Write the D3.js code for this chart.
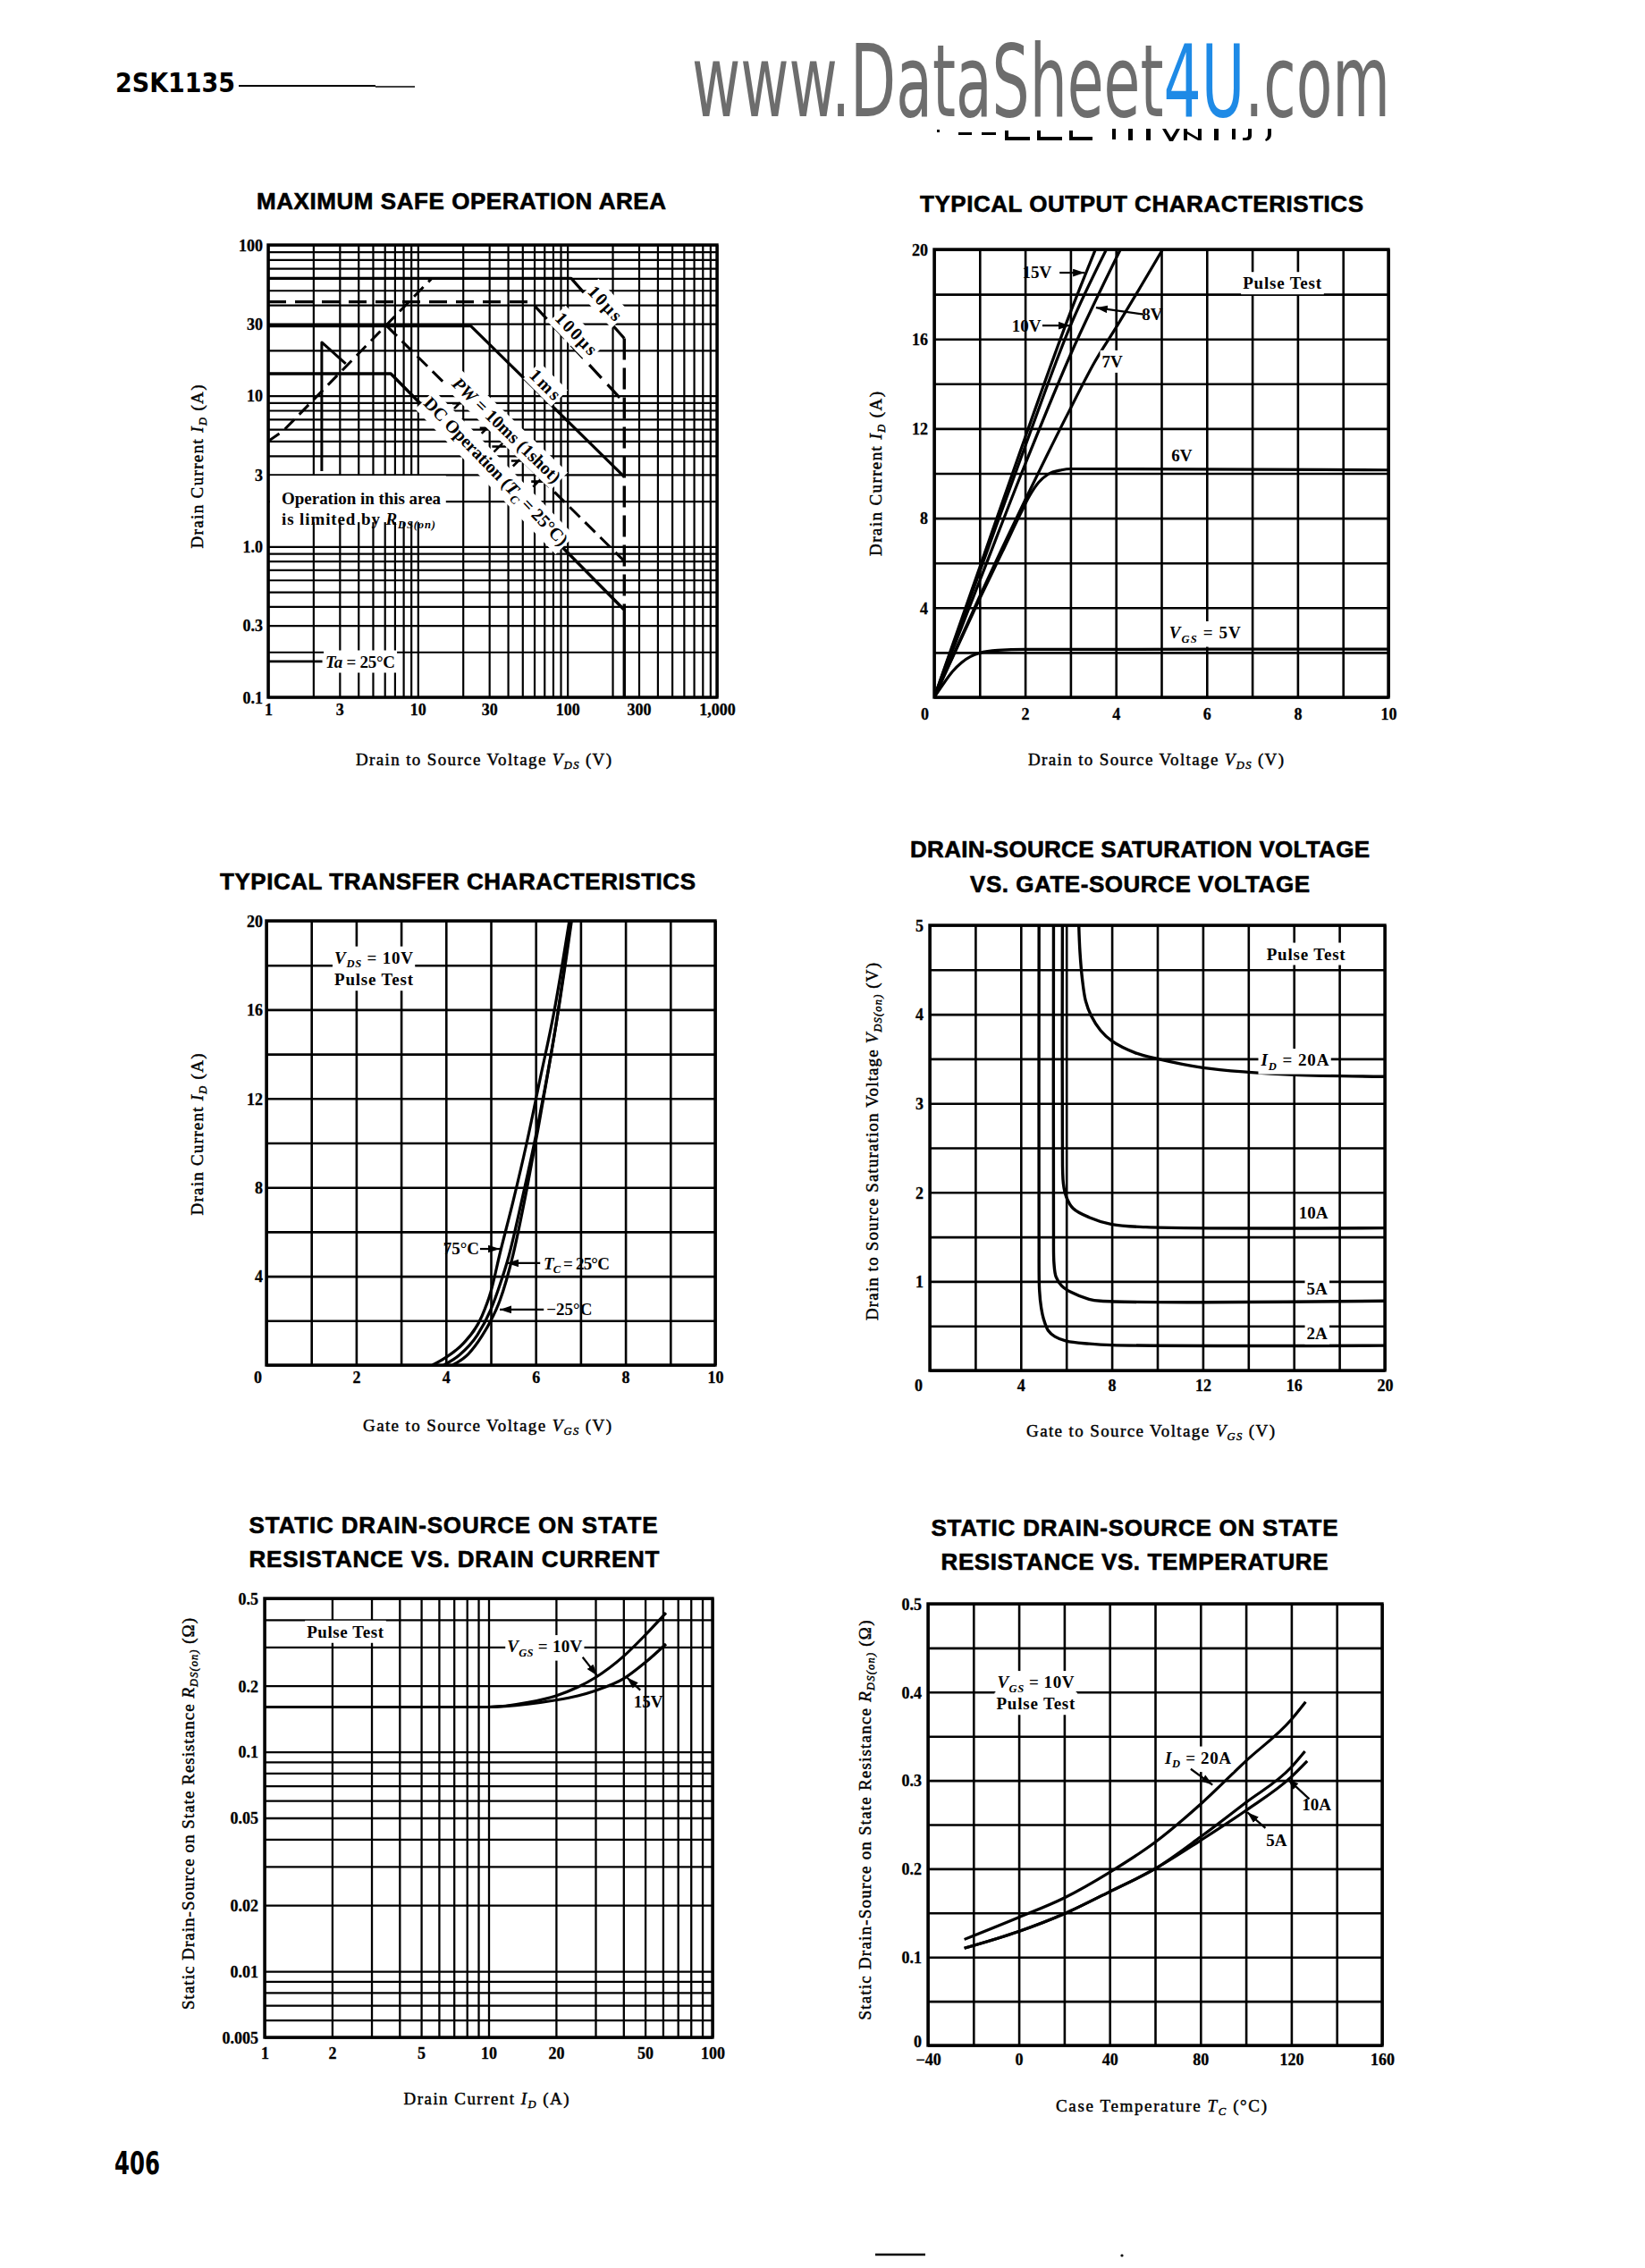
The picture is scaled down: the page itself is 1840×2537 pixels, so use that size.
<!DOCTYPE html>
<html>
<head>
<meta charset="utf-8">
<title>2SK1135</title>
<script src="https://cdn.jsdelivr.net/npm/d3@7"></script>
<style>
html,body{margin:0;padding:0;background:#fff;}
svg{display:block;}
</style>
</head>
<body>
<svg id="page" width="1840" height="2537" xmlns="http://www.w3.org/2000/svg"></svg>
<script>
// ======================= DATA =======================
// 1. Maximum safe operation area (VDS [V], ID [A])
const soaXTicks = [1, 3, 10, 30, 100, 300, 1000];
const soaXTickLabels = ["1", "3", "10", "30", "100", "300", "1,000"];
const soaYTicks = [0.1, 0.3, 1, 3, 10, 30, 100];
const soaYTickLabels = ["0.1", "0.3", "1.0", "3", "10", "30", "100"];
const soaRdsLimit = [[1, 5.0], [1.25, 5.8], [12.4, 60]];
const soa10us = [[1, 60], [106, 60], [240, 24]];
const soa100us = [[1, 42], [57, 42], [240, 9.0]];
const soa1ms = [[1, 29], [22.6, 29], [240, 2.9]];
const soa10ms = [[6.2, 29], [240, 0.8]];
const soa10msMarks = [[19, 8.9], [29, 6.1], [35, 4.6], [47, 3.7], [64, 2.7]];
const soaDC = [[1, 14], [6.6, 14], [240, 0.38], [240, 0.1]];
const soaVdss = [[240, 24], [240, 0.38]];
const soaTaLimit = [[2.28, 3.16], [2.28, 22.6], [3.3, 16.3]];
const soaTaLevel = [[1, 0.173], [2.3, 0.173]];

// 2. Typical output characteristics (VDS [V], ID [A])
const outXTicks = [0, 2, 4, 6, 8, 10];
const outYTicks = [4, 8, 12, 16, 20];
const out15V = [[0, 0], [1, 5.8], [2, 11.6], [3, 17.2], [3.55, 20]];
const out10V = [[0, 0], [1, 5.6], [2, 11.2], [3, 16.6], [3.79, 20]];
const out8V = [[0, 0], [1, 5.2], [2, 10.4], [3, 15.3], [4.1, 20]];
const out7V = [[0, 0], [1, 4.5], [2, 8.8], [3, 12.9], [3.54, 15], [4, 16.5], [5.03, 20]];
const out6V = [[0, 0], [0.5, 2.2], [1, 4.4], [1.5, 6.5], [1.9, 8.2], [2.1, 9.0], [2.3, 9.6], [2.5, 9.95], [2.8, 10.15], [3, 10.2], [10, 10.15]];
const out5V = [[0, 0], [0.2, 0.6], [0.4, 1.15], [0.6, 1.55], [0.8, 1.82], [1.0, 1.98], [1.4, 2.1], [2, 2.14], [10, 2.15]];

// 3. Typical transfer characteristics (VGS [V], ID [A])
const trXTicks = [0, 2, 4, 6, 8, 10];
const trYTicks = [4, 8, 12, 16, 20];
const tr75C = [[3.7, 0], [4.0, 0.35], [4.4, 1.0], [4.8, 2.2], [5.0, 3.3], [5.2, 5.0], [5.5, 7.4], [5.8, 10.0], [6.1, 12.9], [6.4, 15.8], [6.75, 20]];
const tr25C = [[3.95, 0], [4.3, 0.45], [4.7, 1.35], [5.0, 2.5], [5.2, 3.6], [5.4, 4.9], [5.7, 7.5], [6.0, 10.3], [6.2, 12.4], [6.45, 15.3], [6.78, 20]];
const trM25C = [[4.15, 0], [4.5, 0.5], [4.8, 1.3], [5.0, 2.0], [5.2, 2.9], [5.5, 5.0], [5.8, 7.9], [6.05, 10.6], [6.25, 12.9], [6.5, 15.9], [6.8, 20]];

// 4. Drain-source saturation voltage vs gate-source voltage (VGS [V], VDS(on) [V])
const satXTicks = [0, 4, 8, 12, 16, 20];
const satYTicks = [1, 2, 3, 4, 5];
const sat20A = [[6.55, 5], [6.6, 4.7], [6.7, 4.4], [6.85, 4.15], [7.1, 3.98], [7.5, 3.82], [8, 3.7], [9, 3.57], [10, 3.5], [12, 3.4], [14, 3.35], [16, 3.32], [20, 3.3]];
const sat10A = [[5.83, 5], [5.83, 2.6], [5.87, 2.1], [6.0, 1.95], [6.3, 1.82], [7, 1.72], [8, 1.64], [9.5, 1.61], [20, 1.6]];
const sat5A = [[5.44, 5], [5.44, 1.6], [5.46, 1.2], [5.55, 1.05], [5.8, 0.95], [6.2, 0.88], [7, 0.8], [7.5, 0.78], [20, 0.78]];
const sat2A = [[4.8, 5], [4.8, 1.5], [4.82, 0.9], [4.9, 0.7], [5.0, 0.58], [5.2, 0.45], [5.5, 0.38], [6, 0.33], [7, 0.3], [8, 0.285], [20, 0.28]];

// 5. Static drain-source on-state resistance vs drain current (ID [A], RDS(on) [ohm])
const rdsIXTicks = [1, 2, 5, 10, 20, 50, 100];
const rdsIYTicks = [0.005, 0.01, 0.02, 0.05, 0.1, 0.2, 0.5];
const rdsI10V = [[1, 0.16], [10, 0.16], [15, 0.168], [20, 0.18], [25, 0.197], [30, 0.218], [40, 0.272], [50, 0.34], [62, 0.43]];
const rdsI15V = [[1, 0.16], [10, 0.16], [15, 0.165], [20, 0.172], [25, 0.18], [30, 0.19], [40, 0.215], [50, 0.255], [62, 0.31]];

// 6. Static drain-source on-state resistance vs temperature (Tc [degC], RDS(on) [ohm])
const rdsTXTicks = [-40, 0, 40, 80, 120, 160];
const rdsTXTickLabels = ["\u221240", "0", "40", "80", "120", "160"];
const rdsTYTicks = [0, 0.1, 0.2, 0.3, 0.4, 0.5];
const rdsTYTickLabels = ["0", "0.1", "0.2", "0.3", "0.4", "0.5"];
const rdsT20A = [[-24, 0.12], [0, 0.145], [20, 0.167], [40, 0.196], [60, 0.23], [80, 0.273], [100, 0.322], [120, 0.369], [126.3, 0.389]];
const rdsT10A = [[-24, 0.11], [0, 0.129], [20, 0.149], [40, 0.174], [60, 0.2], [80, 0.236], [100, 0.275], [120, 0.315], [126, 0.333]];
const rdsT5A = [[-24, 0.11], [0, 0.129], [20, 0.149], [40, 0.174], [60, 0.2], [80, 0.232], [100, 0.266], [120, 0.304], [127, 0.322]];

// ======================= DRAWING =======================
const SERIF = "'Liberation Serif','Times New Roman',Times,serif";
const SANS = "'Liberation Sans',Arial,Helvetica,sans-serif";
const NARROW = "'Liberation Sans Narrow','Arial Narrow','DejaVu Sans Condensed','Liberation Sans',sans-serif";

const svg = d3.select("#page");
svg.append("rect").attr("width", 1840).attr("height", 2537).attr("fill", "#fff");
const defs = svg.append("defs");
defs.append("marker").attr("id", "arrow").attr("viewBox", "0 0 12 8").attr("refX", 12).attr("refY", 4)
  .attr("markerWidth", 13).attr("markerHeight", 9).attr("markerUnits", "userSpaceOnUse").attr("orient", "auto")
  .append("path").attr("d", "M0,0L12,4L0,8Z").attr("fill", "#000");

function rich(parent, x, y, parts, o = {}) {
  const g = parent.append("g").attr("transform", `translate(${x},${y})` + (o.rot ? ` rotate(${o.rot})` : "") + (o.sy ? ` scale(1,${o.sy})` : ""));
  const bg = o.bg ? g.append("rect").attr("fill", "#fff") : null;
  const size = o.size || 19;
  const t = g.append("text")
    .attr("x", 0).attr("y", 0)
    .attr("text-anchor", o.anchor || "middle")
    .attr("font-family", o.family || SERIF)
    .attr("font-size", size)
    .attr("font-weight", o.weight || "bold")
    .attr("fill", o.fill || "#000")
    .attr("dy", o.dy == null ? "0.35em" : o.dy);
  if (o.stroke) t.attr("stroke", o.fill || "#000").attr("stroke-width", o.stroke);
  let shifted = 0;
  const sh = size * 0.24;
  (Array.isArray(parts) ? parts : [parts]).forEach(p => {
    if (typeof p === "string") p = { t: p };
    const ts = t.append("tspan").text(p.t);
    if (p.i) ts.attr("font-style", "italic");
    if (p.s) {
      ts.attr("font-size", size * 0.66);
      if (!shifted) { ts.attr("dy", sh); shifted = 1; }
    } else if (shifted) { ts.attr("dy", -sh); shifted = 0; }
  });
  if (o.len) t.attr("textLength", o.len).attr("lengthAdjust", o.adjust || "spacing");
  if (bg) {
    const b = t.node().getBBox();
    const p = o.pad == null ? 2 : o.pad;
    bg.attr("x", b.x - p).attr("y", b.y - p).attr("width", b.width + 2 * p).attr("height", b.height + 2 * p);
  }
  return g;
}

function logGrid(lo, hi) {
  const out = [];
  for (let e = Math.floor(Math.log10(lo) + 1e-9); Math.pow(10, e) < hi * 0.999; e++) {
    for (let m = 1; m < 10; m++) {
      const v = +(m * Math.pow(10, e)).toPrecision(3);
      if (v >= lo * 0.999 && v <= hi * 1.001) out.push(v);
    }
  }
  if (out[out.length - 1] !== hi) out.push(hi);
  return out;
}
function linGrid(a, b, s) { return d3.range(a, b + s / 2, s); }

let clipN = 0;
function chart(cfg) {
  const g = svg.append("g");
  const { x, y } = cfg;
  const [xl, xr] = x.range();
  const [yb, yt] = y.range();
  const id = "clip" + (clipN++);
  defs.append("clipPath").attr("id", id).append("rect")
    .attr("x", xl).attr("y", yt).attr("width", xr - xl).attr("height", yb - yt);
  const grid = g.append("g");
  const gx = grid.append("g").attr("transform", `translate(0,${yb})`)
    .call(d3.axisBottom(x).tickValues(cfg.xGrid).tickSize(-(yb - yt)).tickFormat(""));
  const gy = grid.append("g").attr("transform", `translate(${xl},0)`)
    .call(d3.axisLeft(y).tickValues(cfg.yGrid).tickSize(-(xr - xl)).tickFormat(""));
  [gx, gy].forEach(s => {
    s.select(".domain").remove();
    s.selectAll("line").attr("stroke", "#000").attr("stroke-width", cfg.gridW);
  });
  const plot = g.append("g").attr("clip-path", `url(#${id})`);
  const ann = g.append("g");
  // tick labels via axes
  const ax = g.append("g").attr("transform", `translate(0,${cfg.xLabY})`)
    .call(d3.axisBottom(x).tickValues(cfg.xTicks).tickFormat((d, i) => cfg.xLabels[i]).tickSize(0).tickPadding(0));
  ax.select(".domain").remove();
  ax.attr("font-family", SERIF).attr("font-size", 18).attr("font-weight", "bold");
  ax.selectAll("text").attr("y", 0).attr("dy", "0.35em").attr("fill", "#000")
    .attr("stroke", "#000").attr("stroke-width", 0.3)
    .attr("dx", (d, i) => (cfg.xShift && cfg.xShift[i]) || 0);
  const ay = g.append("g").attr("transform", `translate(${cfg.yLabX},0)`)
    .call(d3.axisLeft(y).tickValues(cfg.yTicks).tickFormat((d, i) => cfg.yLabels[i]).tickSize(0).tickPadding(0));
  ay.select(".domain").remove();
  ay.attr("font-family", SERIF).attr("font-size", 18).attr("font-weight", "bold");
  ay.selectAll("text").attr("x", 0).attr("dy", "0.35em").attr("fill", "#000")
    .attr("stroke", "#000").attr("stroke-width", 0.3)
    .attr("y", (d, i) => (cfg.yShift && cfg.yShift[i]) || 0);
  // titles
  cfg.title.forEach(tl => rich(svg, tl.x, tl.y, tl.t, { family: SANS, size: 26, weight: "bold", len: tl.len, stroke: 0.6 }));
  rich(svg, cfg.xTitle.x, cfg.xTitle.y, cfg.xTitle.t, { size: 19, weight: "normal", stroke: 0.45, len: cfg.xTitle.len });
  rich(svg, cfg.yTitle.x, cfg.yTitle.y, cfg.yTitle.t, { size: 19, weight: "normal", stroke: 0.45, len: cfg.yTitle.len, rot: -90 });
  return {
    g, plot, ann, x, y,
    line(data, o = {}) {
      return plot.append("path").datum(data)
        .attr("d", d3.line().x(d => x(d[0])).y(d => y(d[1])).curve(o.curve || d3.curveLinear))
        .attr("fill", "none").attr("stroke", "#000").attr("stroke-width", o.w || 3.2)
        .attr("stroke-dasharray", o.dash || null).attr("stroke-linejoin", "round").attr("stroke-linecap", "butt");
    },
    label(pos, parts, o = {}) {
      return rich(ann, x(pos[0]), y(pos[1]), parts, Object.assign({ size: 19, weight: "bold", bg: true }, o));
    },
    arrow(from, to) {
      ann.append("line").attr("x1", x(from[0])).attr("y1", y(from[1])).attr("x2", x(to[0])).attr("y2", y(to[1]))
        .attr("stroke", "#000").attr("stroke-width", 2.2).attr("marker-end", "url(#arrow)");
    },
    finish() {
      g.append("rect").attr("x", xl).attr("y", yt).attr("width", xr - xl).attr("height", yb - yt)
        .attr("fill", "none").attr("stroke", "#000").attr("stroke-width", 3.4);
    }
  };
}

// ---------- page header / footer ----------
rich(svg, 129, 103, "2SK1135", { family: NARROW, size: 31, weight: "bold", anchor: "start", dy: 0, len: 134, adjust: "spacingAndGlyphs" });
svg.append("line").attr("x1", 267).attr("x2", 420).attr("y1", 96).attr("y2", 96).attr("stroke", "#000").attr("stroke-width", 2.2);
svg.append("line").attr("x1", 420).attr("x2", 464).attr("y1", 97).attr("y2", 97).attr("stroke", "#000").attr("stroke-width", 1.4);
// watermark: one text, "4U" coloured blue through a hard-stop gradient
const WM_W = 781;
const wmGrad = defs.append("linearGradient").attr("id", "wmGrad").attr("gradientUnits", "userSpaceOnUse")
  .attr("x1", 0).attr("x2", WM_W).attr("y1", 0).attr("y2", 0);
const wmG = rich(svg, 774, 130, "www.DataSheet4U.com", { family: NARROW, size: 82, weight: "normal", anchor: "start", dy: 0,
  len: WM_W, adjust: "spacingAndGlyphs", sy: 1.37, fill: "url(#wmGrad)" });
let cutA = 0.69 * WM_W, cutB = 0.813 * WM_W;
try {
  const tn = wmG.select("text").node();
  cutA = (tn.getEndPositionOfChar(12).x + tn.getStartPositionOfChar(13).x) / 2;
  cutB = (tn.getEndPositionOfChar(14).x + tn.getStartPositionOfChar(15).x) / 2;
} catch (e) {}
[[0, "#6d6d6d"], [cutA / WM_W, "#6d6d6d"], [cutA / WM_W, "#1e8ae6"], [cutB / WM_W, "#1e8ae6"], [cutB / WM_W, "#6d6d6d"], [1, "#6d6d6d"]]
  .forEach(([off, col]) => wmGrad.append("stop").attr("offset", off).attr("stop-color", col));
// cut-off print fragments under the watermark (bottoms of a clipped line of letters)
svg.append("path").attr("fill", "#000").attr("d",
  "M1048,145h3v3h-3z M1072,148h15v3h-15z M1098,148h16v3h-16z" +
  " M1124,146h4v10h-4z M1124,153h28v4h-28z M1160,146h4v10h-4z M1160,153h28v4h-28z" +
  " M1196,146h4v10h-4z M1196,153h26v4h-26z" +
  " M1244,144h4v12h-4z M1262,144h5v13h-5z M1282,144h5v13h-5z" +
  " M1300,144h4l6,10l6,-10h4l-8,14h-4z M1324,144h4v13h-4z M1340,144h4v13h-4z M1328,150l12,7v-3l-12,-7z" +
  " M1358,144h5v13h-5z M1378,144h4v12h-4z M1396,144h4v8q0,5 -6,5h-4v-3h3q3,0 3,-3z M1418,144h4v6q0,6 -6,8l-1,-2q3,-2 3,-6z");
rich(svg, 128, 2432, "406", { family: NARROW, size: 36, weight: "bold", anchor: "start", dy: 0, len: 51, adjust: "spacingAndGlyphs" });
svg.append("line").attr("x1", 979).attr("x2", 1035).attr("y1", 2522).attr("y2", 2522).attr("stroke", "#000").attr("stroke-width", 2.4);
svg.append("circle").attr("cx", 1255).attr("cy", 2523).attr("r", 1.6).attr("fill", "#000");

const VDS = [{ t: "V", i: 1 }, { t: "DS", i: 1, s: 1 }];
const VGS = [{ t: "V", i: 1 }, { t: "GS", i: 1, s: 1 }];
const ID = [{ t: "I", i: 1 }, { t: "D", i: 1, s: 1 }];

// ---------- Chart 1: SOA ----------
const c1 = chart({
  x: d3.scaleLog().domain([1, 1000]).range([300, 802]),
  y: d3.scaleLog().domain([0.1, 100]).range([780, 274]),
  xGrid: logGrid(1, 1000), yGrid: logGrid(0.1, 100), gridW: 2.2,
  xTicks: soaXTicks, xLabels: soaXTickLabels, yTicks: soaYTicks, yLabels: soaYTickLabels,
  xLabY: 794, yLabX: 294,
  title: [{ x: 516, y: 225, t: "MAXIMUM  SAFE  OPERATION  AREA", len: 458 }],
  xTitle: { x: 541, y: 849, t: ["Drain to Source Voltage  ", ...VDS, "   (V)"], len: 286 },
  yTitle: { x: 220, y: 522, t: ["Drain Current  ", ...ID, "  (A)"], len: 183 }
});
// white box behind the R_DS(on) note
c1.ann.append("rect").attr("x", c1.x(1) + 2).attr("y", c1.y(2.95))
  .attr("width", c1.x(15) - c1.x(1)).attr("height", c1.y(1.45) - c1.y(2.95)).attr("fill", "#fff");
c1.line(soaTaLimit, { w: 3 });
c1.line(soaRdsLimit, { dash: "15,8", w: 3 });
c1.line(soa10us, { w: 3.2 });
c1.line(soa100us, { dash: "20,10", w: 3.2 });
c1.line(soa1ms, { w: 3.2 });
c1.line(soa10ms, { dash: "16,8", w: 3 });
c1.line(soaDC, { w: 3.4 });
c1.line(soaVdss, { dash: "24,9", w: 3.4 });
c1.line(soaTaLevel, { w: 2.6 });
soa10msMarks.forEach(([vx, vy]) => {
  const px = c1.x(vx), py = c1.y(vy);
  c1.plot.append("path").attr("d", `M${px - 8},${py}L${px + 8},${py}M${px - 6},${py + 6}L${px + 6},${py - 6}`)
    .attr("stroke", "#000").attr("stroke-width", 2.6);
});
c1.label([179, 41.2], "10\u00B5s", { rot: 47, len: 46, size: 20 });
c1.label([115, 25.9], "100\u00B5s", { rot: 46, len: 58, size: 20 });
c1.label([71.3, 11.9], "1ms", { rot: 45, len: 40, size: 20 });
c1.label([39.4, 5.93], [{ t: "PW", i: 1 }, " = 10ms (1shot)"], { rot: 44, len: 160, size: 20 });
c1.label([33.4, 3.16], ["DC  Operation (", { t: "T", i: 1 }, { t: "C", i: 1, s: 1 }, " = 25\u00B0C)"], { rot: 46, len: 222, size: 20 });
rich(c1.ann, c1.x(1.23), c1.y(2.1), "Operation  in  this  area", { anchor: "start", size: 19, len: 178 });
rich(c1.ann, c1.x(1.23), c1.y(1.53), ["is  limited  by  ", { t: "R", i: 1 }, { t: "DS(on)", i: 1, s: 1 }], { anchor: "start", size: 19, len: 172 });
c1.label([4.13, 0.173], [{ t: "Ta", i: 1 }, " = 25\u00B0C"], { len: 78 });
c1.finish();

// ---------- Chart 2: output characteristics ----------
const c2 = chart({
  x: d3.scaleLinear().domain([0, 10]).range([1045, 1553]),
  y: d3.scaleLinear().domain([0, 20]).range([780, 279]),
  xGrid: linGrid(0, 10, 1), yGrid: linGrid(0, 20, 2), gridW: 2.6,
  xTicks: outXTicks, xLabels: outXTicks.map(String), xShift: [-11],
  yTicks: outYTicks, yLabels: outYTicks.map(String),
  xLabY: 799, yLabX: 1038,
  title: [{ x: 1277, y: 228, t: "TYPICAL  OUTPUT  CHARACTERISTICS", len: 496 }],
  xTitle: { x: 1293, y: 849, t: ["Drain to Source Voltage  ", ...VDS, "   (V)"], len: 286 },
  yTitle: { x: 979, y: 530, t: ["Drain Current  ", ...ID, "  (A)"], len: 184 }
});
[out15V, out10V, out8V, out7V, out6V, out5V].forEach(d => c2.line(d, { curve: d3.curveMonotoneX }));
c2.label([7.66, 18.5], "Pulse Test", { len: 88 });
c2.label([2.26, 19.0], "15V", { bg: false });
c2.arrow([2.76, 18.96], [3.31, 18.96]);
c2.label([2.03, 16.6], "10V", { bg: false });
c2.arrow([2.38, 16.6], [2.99, 16.6]);
c2.label([4.8, 17.1], "8V", { bg: false });
c2.arrow([4.61, 17.1], [3.56, 17.4]);
c2.label([3.92, 15.0], "7V");
c2.label([5.45, 10.8], "6V");
c2.label([5.96, 2.9], [{ t: "V", i: 1 }, { t: "GS", i: 1, s: 1 }, " = 5V"], { len: 80 });
c2.finish();

// ---------- Chart 3: transfer characteristics ----------
const c3 = chart({
  x: d3.scaleLinear().domain([0, 10]).range([298, 800]),
  y: d3.scaleLinear().domain([0, 20]).range([1527, 1030]),
  xGrid: linGrid(0, 10, 1), yGrid: linGrid(0, 20, 2), gridW: 2.6,
  xTicks: trXTicks, xLabels: trXTicks.map(String), xShift: [-10],
  yTicks: trYTicks, yLabels: trYTicks.map(String),
  xLabY: 1541, yLabX: 294,
  title: [{ x: 512, y: 986, t: "TYPICAL  TRANSFER  CHARACTERISTICS", len: 532 }],
  xTitle: { x: 545, y: 1594, t: ["Gate to Source Voltage  ", ...VGS, "   (V)"], len: 278 },
  yTitle: { x: 220, y: 1269, t: ["Drain Current  ", ...ID, "  (A)"], len: 181 }
});
[tr75C, tr25C, trM25C].forEach(d => c3.line(d, { curve: d3.curveMonotoneX }));
c3.label([2.39, 18.35], [{ t: "V", i: 1 }, { t: "DS", i: 1, s: 1 }, " = 10V"], { len: 88 });
c3.label([2.39, 17.36], "Pulse Test", { len: 88 });
c3.label([4.34, 5.25], "75\u00B0C", { bg: false });
c3.arrow([4.76, 5.23], [5.2, 5.23]);
c3.label([6.91, 4.59], [{ t: "T", i: 1 }, { t: "C", i: 1, s: 1 }, " = 25\u00B0C"], { bg: false, len: 74 });
c3.arrow([6.1, 4.59], [5.36, 4.59]);
c3.label([6.75, 2.54], "\u221225\u00B0C", { bg: false });
c3.arrow([6.18, 2.5], [5.2, 2.5]);
c3.finish();

// ---------- Chart 4: saturation voltage ----------
const c4 = chart({
  x: d3.scaleLinear().domain([0, 20]).range([1040, 1549]),
  y: d3.scaleLinear().domain([0, 5]).range([1533, 1035]),
  xGrid: linGrid(0, 20, 2), yGrid: linGrid(0, 5, 0.5), gridW: 2.6,
  xTicks: satXTicks, xLabels: satXTicks.map(String), xShift: [-13],
  yTicks: satYTicks, yLabels: satYTicks.map(String),
  xLabY: 1550, yLabX: 1033,
  title: [{ x: 1275, y: 950, t: "DRAIN-SOURCE  SATURATION  VOLTAGE", len: 514 },
          { x: 1275, y: 989, t: "VS.  GATE-SOURCE  VOLTAGE", len: 380 }],
  xTitle: { x: 1287, y: 1600, t: ["Gate to Source Voltage  ", ...VGS, "   (V)"], len: 278 },
  yTitle: { x: 975, y: 1277, t: ["Drain to Source Saturation Voltage  ", { t: "V", i: 1 }, { t: "DS(on)", i: 1, s: 1 }, "  (V)"], len: 400 }
});
[sat20A, sat10A, sat5A, sat2A].forEach(d => c4.line(d, { curve: d3.curveCatmullRom.alpha(0.5), w: 3.4 }));
c4.label([16.53, 4.68], "Pulse Test", { len: 88 });
c4.label([16.05, 3.49], [{ t: "I", i: 1 }, { t: "D", i: 1, s: 1 }, " = 20A"], { len: 76 });
c4.label([16.86, 1.77], "10A");
c4.label([17.02, 0.92], "5A");
c4.label([17.02, 0.42], "2A");
c4.finish();

// ---------- Chart 5: RDS(on) vs ID ----------
const c5 = chart({
  x: d3.scaleLog().domain([1, 100]).range([296, 797]),
  y: d3.scaleLog().domain([0.005, 0.5]).range([2279, 1788]),
  xGrid: logGrid(1, 100), yGrid: logGrid(0.005, 0.5), gridW: 2.3,
  xTicks: rdsIXTicks, xLabels: rdsIXTicks.map(String),
  yTicks: rdsIYTicks, yLabels: rdsIYTicks.map(String),
  xLabY: 2297, yLabX: 289,
  title: [{ x: 507, y: 1706, t: "STATIC  DRAIN-SOURCE  ON  STATE", len: 457 },
          { x: 508, y: 1744, t: "RESISTANCE  VS.  DRAIN  CURRENT", len: 459 }],
  xTitle: { x: 544, y: 2347, t: ["Drain Current  ", ...ID, "  (A)"], len: 185 },
  yTitle: { x: 210, y: 2029, t: ["Static Drain-Source on State Resistance  ", { t: "R", i: 1 }, { t: "DS(on)", i: 1, s: 1 }, "  (\u03A9)"], len: 438 }
});
c5.line(rdsI10V, { curve: d3.curveMonotoneX });
c5.line(rdsI15V, { curve: d3.curveMonotoneX });
c5.label([2.29, 0.353], "Pulse Test", { len: 86 });
c5.label([17.8, 0.303], [{ t: "V", i: 1 }, { t: "GS", i: 1, s: 1 }, " = 10V"], { len: 84 });
c5.arrow([26.3, 0.27], [30.6, 0.222]);
c5.label([51.6, 0.169], "15V", { bg: false });
c5.arrow([47.6, 0.191], [41.5, 0.218]);
c5.finish();

// ---------- Chart 6: RDS(on) vs temperature ----------
const c6 = chart({
  x: d3.scaleLinear().domain([-40, 160]).range([1038, 1546]),
  y: d3.scaleLinear().domain([0, 0.5]).range([2288, 1794]),
  xGrid: linGrid(-40, 160, 20), yGrid: linGrid(0, 0.5, 0.05), gridW: 2.6,
  xTicks: rdsTXTicks, xLabels: rdsTXTickLabels,
  yTicks: rdsTYTicks, yLabels: rdsTYTickLabels, yShift: [-5],
  xLabY: 2304, yLabX: 1031,
  title: [{ x: 1269, y: 1709, t: "STATIC  DRAIN-SOURCE  ON  STATE", len: 455 },
          { x: 1269, y: 1747, t: "RESISTANCE  VS.  TEMPERATURE", len: 433 }],
  xTitle: { x: 1299, y: 2355, t: ["Case Temperature  ", { t: "T", i: 1 }, { t: "C", i: 1, s: 1 }, "  (\u00B0C)"], len: 236 },
  yTitle: { x: 967, y: 2036, t: ["Static Drain-Source on State Resistance  ", { t: "R", i: 1 }, { t: "DS(on)", i: 1, s: 1 }, "  (\u03A9)"], len: 447 }
});
[rdsT20A, rdsT10A, rdsT5A].forEach(d => c6.line(d, { curve: d3.curveMonotoneX }));
c6.label([7.4, 0.4115], [{ t: "V", i: 1 }, { t: "GS", i: 1, s: 1 }, " = 10V"], { len: 86 });
c6.label([7.4, 0.387], "Pulse Test", { len: 88 });
c6.label([78.9, 0.326], [{ t: "I", i: 1 }, { t: "D", i: 1, s: 1 }, " = 20A"], { len: 74 });
c6.arrow([75.7, 0.313], [85.3, 0.295]);
c6.label([131.1, 0.273], "10A", { bg: false });
c6.arrow([127.9, 0.279], [118.3, 0.302]);
c6.label([113.5, 0.232], "5A", { bg: false });
c6.arrow([108.6, 0.246], [100.6, 0.264]);
c6.finish();
</script>
</body>
</html>
